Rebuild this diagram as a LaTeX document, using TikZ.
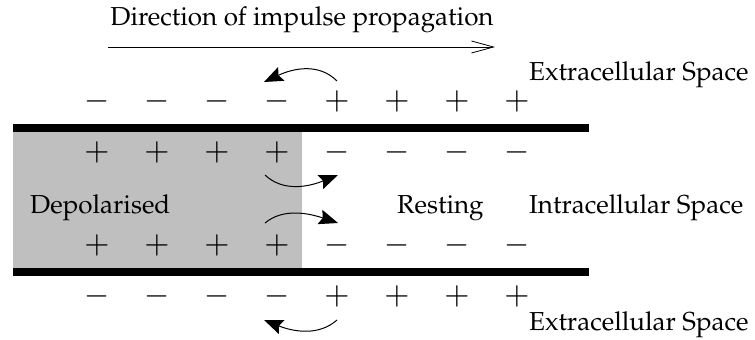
\documentclass[tikz,border=0pt]{standalone}
\usepackage[T1]{fontenc}
\usepackage{mathpazo}
\usetikzlibrary{arrows.meta}
\begin{document}
\begin{tikzpicture}[x=1pt,y=-1pt,
  lbl/.style={inner sep=0pt,font=\fontsize{26}{30}\selectfont},
  sgn/.style={inner sep=0pt,font=\fontsize{31}{31}\selectfont},
  bar/.style={fill=black},
  arr/.style={line width=1pt,-{Stealth[length=19pt,width=15pt,inset=3pt]}},
  dirarr/.style={line width=0.8pt,-{Straight Barb[length=22pt,width=12pt]}}]
\useasboundingbox (0,0) rectangle (755,340);
% cytoplasm
\fill[black!25] (13,132) rectangle (302,268);
\fill[bar] (13,124) rectangle (589,132);
\fill[bar] (13,268) rectangle (589,276);
% title
\node[lbl] (title) at (302,20) {Direction of impulse propagation};
\coordinate (d1) at (108,47);
\coordinate (d2) at (495,47);
\draw[dirarr] (d1) -- (d2);
% labels
\node[lbl,anchor=west] (ext1) at (529,75) {Extracellular Space};
\node[lbl,anchor=west] (intra) at (529,208) {Intracellular Space};
\node[lbl,anchor=west] (ext2) at (529,325) {Extracellular Space};
\node[lbl,anchor=west] (dep) at (30,208) {Depolarised};
\node[lbl,anchor=west] (rest) at (397,208) {Resting};
% signs
\foreach \i/\x in {1/97,2/157,3/217,4/277}{
  \node[sgn] (em\i) at (\x,101) {$-$};
  \node[sgn] (ip\i) at (\x,152) {$+$};
  \node[sgn] (jp\i) at (\x,245) {$+$};
  \node[sgn] (fm\i) at (\x,296) {$-$};
}
\foreach \i/\x in {1/337,2/397,3/457,4/517}{
  \node[sgn] (ep\i) at (\x,101) {$+$};
  \node[sgn] (im\i) at (\x,152) {$-$};
  \node[sgn] (jm\i) at (\x,245) {$-$};
  \node[sgn] (fp\i) at (\x,296) {$+$};
}
% local current arrows
\coordinate (a1s) at (337,81);  \coordinate (a1e) at (264,82);
\coordinate (a2s) at (265,175); \coordinate (a2e) at (338,175);
\coordinate (a3s) at (265,223); \coordinate (a3e) at (338,223);
\coordinate (a4s) at (337,320); \coordinate (a4e) at (264,320);
\draw[arr] (a1s) .. controls +(-18,-18) and +(30,-14) .. (a1e);
\draw[arr] (a2s) .. controls +(18,17) and +(-30,12) .. (a2e);
\draw[arr] (a3s) .. controls +(18,-15) and +(-30,-10) .. (a3e);
\draw[arr] (a4s) .. controls +(-18,16) and +(30,12) .. (a4e);
\end{tikzpicture}
\end{document}
